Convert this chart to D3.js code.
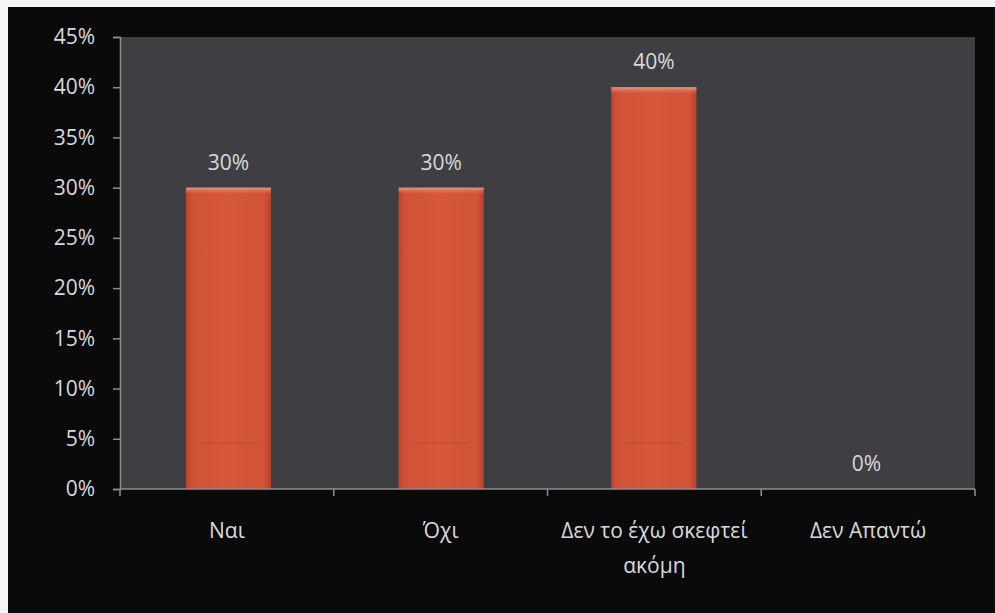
<!DOCTYPE html>
<html>
<head>
<meta charset="utf-8">
<script src="https://cdn.jsdelivr.net/npm/d3@7"></script>
<style>
  html, body { margin: 0; padding: 0; background: #f4f4f6; }
  svg { display: block; }
  text { font-family: "Open Sans", "Noto Sans", sans-serif; }
</style>
</head>
<body>
<svg id="chart" width="995" height="613"></svg>
<script>
// Survey answers and their shares
const categories = ["Ναι", "Όχι", "Δεν το έχω σκεφτεί ακόμη", "Δεν Απαντώ"];
const categoryLines = [["Ναι"], ["Όχι"], ["Δεν το έχω σκεφτεί", "ακόμη"], ["Δεν Απαντώ"]];
const values = [0.30, 0.30, 0.40, 0.00];
const yTicks = [0, 0.05, 0.10, 0.15, 0.20, 0.25, 0.30, 0.35, 0.40, 0.45];

const W = 995, H = 613;
const plot = { left: 120, right: 975, top: 37, bottom: 489 };
const FONT = 21;

const svg = d3.select("#chart");

// black frame behind the chart
svg.append("rect").attr("x", 8).attr("y", 7).attr("width", W - 8).attr("height", H - 7)
  .attr("fill", "#0a0a0b");

const defs = svg.append("defs");
const grad = defs.append("linearGradient").attr("id", "barFill")
  .attr("x1", 0).attr("x2", 1).attr("y1", 0).attr("y2", 0);
grad.append("stop").attr("offset", "0%").attr("stop-color", "#bc452c");
grad.append("stop").attr("offset", "8%").attr("stop-color", "#d05237");
grad.append("stop").attr("offset", "50%").attr("stop-color", "#d6573b");
grad.append("stop").attr("offset", "92%").attr("stop-color", "#d05237");
grad.append("stop").attr("offset", "100%").attr("stop-color", "#b9432b");

const topGrad = defs.append("linearGradient").attr("id", "barTop")
  .attr("x1", 0).attr("x2", 0).attr("y1", 0).attr("y2", 1);
topGrad.append("stop").attr("offset", "0%").attr("stop-color", "#f09a82").attr("stop-opacity", 0.95);
topGrad.append("stop").attr("offset", "100%").attr("stop-color", "#e06a50").attr("stop-opacity", 0);

const x = d3.scaleBand().domain(categories).range([plot.left, plot.right]).paddingInner(0.6).paddingOuter(0.31);
const xBand = d3.scaleBand().domain(categories).range([plot.left, plot.right]);
const y = d3.scaleLinear().domain([0, 0.45]).range([plot.bottom, plot.top]);

// plot area
svg.append("rect")
  .attr("x", plot.left).attr("y", plot.top)
  .attr("width", plot.right - plot.left).attr("height", plot.bottom - plot.top)
  .attr("fill", "#3f3f43");

// bars
const bars = svg.append("g").selectAll("g").data(categories).join("g");
bars.append("rect")
  .attr("x", d => x(d))
  .attr("y", (d, i) => y(values[i]))
  .attr("width", x.bandwidth())
  .attr("height", (d, i) => y(0) - y(values[i]))
  .attr("fill", "url(#barFill)");
bars.filter((d, i) => values[i] > 0).append("rect")
  .attr("x", d => x(d))
  .attr("y", (d, i) => y(values[i]))
  .attr("width", x.bandwidth())
  .attr("height", 7)
  .attr("fill", "url(#barTop)");
// faint bevel line near the foot of each bar
bars.filter((d, i) => values[i] > 0).append("line")
  .attr("x1", d => x(d) + 14).attr("x2", d => x(d) + x.bandwidth() - 14)
  .attr("y1", (d, i) => y(0) - 46).attr("y2", (d, i) => y(0) - 46)
  .attr("stroke", "#b4452d").attr("stroke-width", 1).attr("opacity", 0.6);

// value labels
svg.append("g").selectAll("text").data(categories).join("text")
  .attr("x", d => x(d) + x.bandwidth() / 2)
  .attr("y", (d, i) => y(values[i]) - 18)
  .attr("text-anchor", "middle")
  .attr("fill", "#d9d9dc")
  .attr("font-size", FONT)
  .text((d, i) => d3.format(".0%")(values[i]));

// y axis
const yAxis = d3.axisLeft(y).tickValues(yTicks).tickFormat(d3.format(".0%")).tickSize(7).tickPadding(18);
const gy = svg.append("g").attr("transform", `translate(${plot.left},0)`).call(yAxis);
gy.select(".domain").attr("stroke", "#8e8e92").attr("stroke-width", 1.5);
gy.selectAll(".tick line").attr("stroke", "#8e8e92").attr("stroke-width", 1.5);
gy.selectAll(".tick text").attr("fill", "#d9d9dc").attr("font-size", FONT)
  .attr("font-family", "'Open Sans', 'Noto Sans', sans-serif");

// x axis: ticks on category boundaries
const gx = svg.append("g").attr("transform", `translate(0,${plot.bottom})`);
gx.append("line").attr("x1", plot.left).attr("x2", plot.right).attr("y1", 0).attr("y2", 0)
  .attr("stroke", "#8e8e92").attr("stroke-width", 1.5);
const boundaries = categories.map(d => xBand(d)).concat([plot.right]);
gx.selectAll("line.tk").data(boundaries).join("line").attr("class", "tk")
  .attr("x1", d => d).attr("x2", d => d).attr("y1", 0).attr("y2", 7)
  .attr("stroke", "#8e8e92").attr("stroke-width", 1.5);

const labels = gx.selectAll("text").data(categories).join("text")
  .attr("text-anchor", "middle")
  .attr("fill", "#d9d9dc")
  .attr("font-size", FONT)
  .attr("transform", d => `translate(${xBand(d) + xBand.bandwidth() / 2},49)`);
labels.each(function(d, i) {
  d3.select(this).selectAll("tspan").data(categoryLines[i]).join("tspan")
    .attr("x", 0).attr("dy", (t, j) => j === 0 ? 0 : 35).text(t => t);
});
</script>
</body>
</html>
